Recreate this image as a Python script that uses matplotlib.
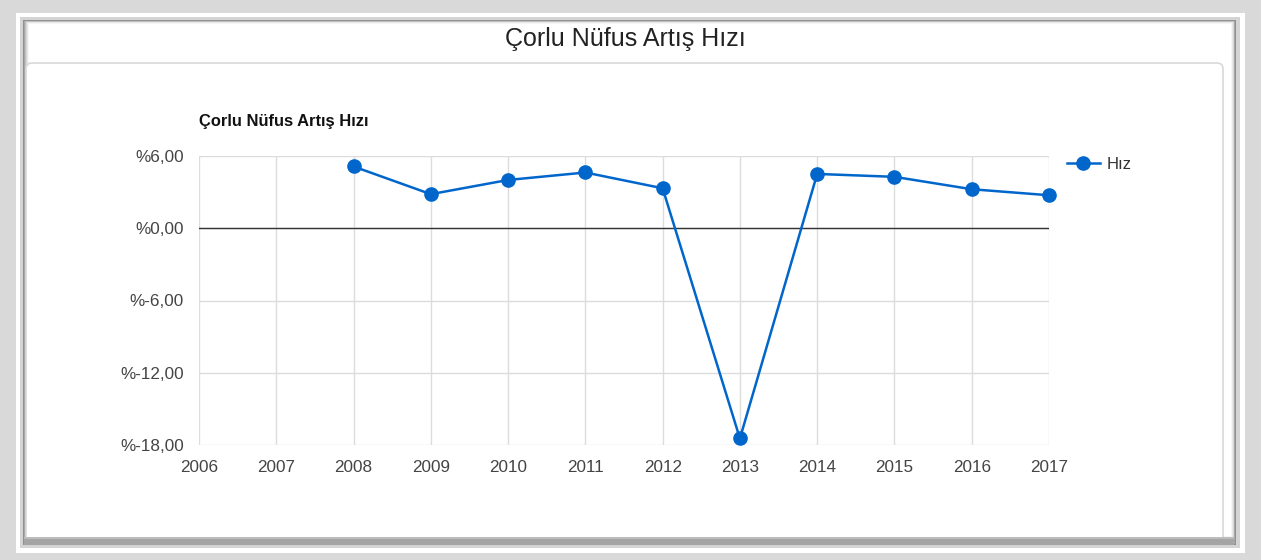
import numpy as np
import matplotlib.pyplot as plt
from matplotlib.patches import Rectangle, FancyBboxPatch

plt.rcParams['font.family'] = ['Liberation Sans', 'DejaVu Sans']

years = [2006, 2007, 2008, 2009, 2010, 2011, 2012, 2013, 2014, 2015, 2016, 2017]
hiz = [np.nan, np.nan, 5.13, 2.83, 4.01, 4.63, 3.32, -17.46, 4.51, 4.27, 3.24, 2.74]
y_ticks = [6, 0, -6, -12, -18]
y_labels = ['%6,00', '%0,00', '%-6,00', '%-12,00', '%-18,00']

W, H = 1261, 560
fig = plt.figure(figsize=(W / 100, H / 100), dpi=100)
fig.patch.set_facecolor('#d9d9d9')

# frame drawn in pixel coordinates
bg = fig.add_axes([0, 0, 1, 1])
bg.set_xlim(0, W)
bg.set_ylim(H, 0)
bg.axis('off')

def box(x0, y0, x1, y1, color):
    bg.add_patch(Rectangle((x0, y0), x1 - x0, y1 - y0, facecolor=color, edgecolor='none'))

box(16, 13, 1245, 553, 'white')
box(20, 17, 1240, 548, '#d4d4d4')
# inner shadow
shades = ['#909090', '#a8a8a8', '#c0c0c0', '#d6d6d6', '#e8e8e8', '#f6f6f6']
for i, c in enumerate(shades):
    box(23 + i, 20 + i * 0.6, 1236 - i * 0.8, 545 - i * 1.5, c)
box(29, 24, 1231, 536, 'white')

# card under the header
card = FancyBboxPatch((26, 63), 1197, 480, boxstyle='round,pad=0,rounding_size=6',
                      facecolor='white', edgecolor='#d8d8d8', linewidth=1.2)
bg.add_patch(card)
box(24, 537, 1234, 545, '#a4a4a4')
box(24, 537, 1234, 539, '#bcbcbc')

bg.text(625, 39, 'Çorlu Nüfus Artış Hızı', ha='center', va='center',
        fontsize=18, color='#222222')

# chart area
x0, x1, y0, y1 = 199, 1049, 156, 445
ax = fig.add_axes([x0 / W, 1 - y1 / H, (x1 - x0) / W, (y1 - y0) / H])
ax.set_facecolor('none')
ax.plot(years, hiz, color='#0066cc', linewidth=1.8, marker='o', markersize=9.5,
        label='Hız', zorder=3, clip_on=False)
ax.axhline(0, color='#333333', linewidth=1, zorder=2)

ax.set_xlim(2006, 2017)
ax.set_ylim(-18, 6)
ax.set_xticks(years)
ax.set_xticklabels([str(y) for y in years])
ax.set_yticks(y_ticks)
ax.set_yticklabels(y_labels)
ax.grid(True, color='#dcdcdc', linewidth=1)
ax.set_axisbelow(True)
for s in ax.spines.values():
    s.set_visible(False)
ax.tick_params(length=0, labelsize=12.3, labelcolor='#444444')
ax.tick_params(axis='y', pad=11)
ax.tick_params(axis='x', pad=11)

ax.text(0, 1.121, 'Çorlu Nüfus Artış Hızı', transform=ax.transAxes,
        fontsize=11.9, fontweight='bold', color='#111111', ha='left', va='center')

ax.legend(loc='center left', bbox_to_anchor=(1.003, 0.97), frameon=False,
          fontsize=12, handlelength=2.0, handletextpad=0.4, labelcolor='#333333')

plt.savefig('out.png', dpi=100, facecolor=fig.get_facecolor())
